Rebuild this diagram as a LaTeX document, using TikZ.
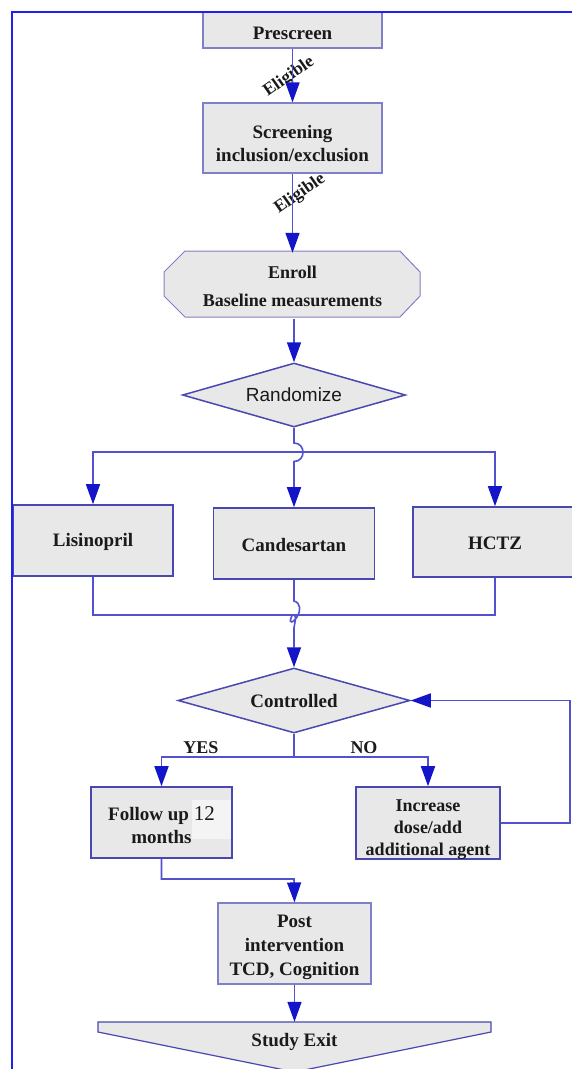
\documentclass[tikz,border=0pt]{standalone}
\usepackage{fontspec}
\setmainfont{Liberation Serif}
\newfontfamily\rsans{Liberation Sans}
\usetikzlibrary{arrows.meta,shapes.geometric}
\definecolor{boxfill}{HTML}{E8E8E8}
\definecolor{boxline}{HTML}{8080C8}
\definecolor{boxlined}{HTML}{4848B0}
\definecolor{conncol}{HTML}{5252D0}
\definecolor{tipcol}{HTML}{1414C8}
\definecolor{framecol}{HTML}{1E1EF5}
\definecolor{patchcol}{HTML}{F4F4F4}
\definecolor{txtcol}{HTML}{1A1A1A}
\begin{document}
\begin{tikzpicture}[x=1pt,y=-1pt,
  box/.style={draw=boxline, fill=boxfill, line width=1.2pt, rectangle, inner sep=0pt, align=center,
    text=txtcol, font=\fontsize{19}{23}\selectfont\bfseries},
  boxd/.style={box, draw=boxlined, line width=1.6pt},
  txt/.style={inner sep=0pt, align=center, text=txtcol, font=\fontsize{19}{23}\selectfont\bfseries},
  dia/.style={diamond, draw=boxlined, fill=boxfill, line width=1.5pt, inner sep=0pt, text=txtcol},
  conn/.style={draw=conncol, line width=1.6pt},
  arr/.style={conn, -{Triangle[width=14pt,length=20pt,color=tipcol]}},
  elig/.style={inner sep=0pt, text=txtcol, rotate=35, font=\fontsize{17.5}{19}\selectfont\bfseries},
]
\useasboundingbox (0,0) rectangle (572,1069);
\clip (0,0) rectangle (572,1069);
\fill[white] (0,0) rectangle (572,1069);

% boxes
\node[box, minimum width=179pt, minimum height=36pt] (pre) at (292.5,30) {};
\node[txt] (pretxt) at (292.5,33) {Prescreen};
\node[box, minimum width=179pt, minimum height=70pt] (scr) at (292.5,138) {};
\node[txt] (scrtxt) at (292.5,143.5) {Screening\\inclusion/exclusion};

\filldraw[draw=boxline, fill=boxfill, line width=1pt]
  (185,251) -- (400,251) -- (420,272) -- (420,296) -- (400,317) -- (185,317) -- (164,296) -- (164,272) -- cycle;
\node[txt, minimum width=256pt, minimum height=66pt, font=\fontsize{18}{28}\selectfont\bfseries] (enr) at (292.5,286)
  {Enroll\\Baseline measurements};

\node[dia, aspect=3.484, minimum width=223pt, minimum height=64pt, font=\rsans\fontsize{19}{21}\selectfont] (rnd) at (294,395) {Randomize};

\node[boxd, minimum width=160pt, minimum height=71pt] (lis) at (93,540.5) {};
\node[txt] (listxt) at (93,542) {Lisinopril};
\node[boxd, minimum width=161pt, minimum height=71pt] (can) at (294,543.5) {};
\node[txt] (cantxt) at (294,545) {Candesartan};
\node[boxd, minimum width=164pt, minimum height=70pt] (hct) at (495,542) {};
\node[txt] (hcttxt) at (495,543.5) {HCTZ};

\node[dia, aspect=3.57, minimum width=232pt, minimum height=65pt, font=\fontsize{19}{21}\selectfont\bfseries] (ctl) at (294,700.5) {Controlled};

\node[boxd, minimum width=141pt, minimum height=71pt] (fol) at (161.5,822.5) {};
\fill[patchcol] (192,800) rectangle (231,839);
\node[txt] (foltxt) at (161.5,825) {Follow up {\mdseries\fontsize{21}{23}\selectfont 12}\\months};

\node[boxd, minimum width=144pt, minimum height=72pt] (inc) at (428,823) {};
\node[txt, font=\fontsize{18}{22}\selectfont\bfseries] (inctxt) at (428,830)
  {Increase\\dose/add\\additional agent};

\node[box, minimum width=153pt, minimum height=81pt] (post) at (294.5,943.5) {};
\node[txt, font=\fontsize{19}{24}\selectfont\bfseries] (posttxt) at (294.5,947)
  {Post\\intervention\\TCD, Cognition};

\filldraw[draw=boxlined, fill=boxfill, line width=1.2pt]
  (98,1022) -- (491,1022) -- (491,1032) -- (294.5,1072) -- (98,1032) -- cycle;
\node[txt, minimum width=393pt, minimum height=40pt] (exit) at (294.5,1042) {Study Exit};

% labels
\node[elig] (el1) at (289,77) {Eligible};
\node[elig] (el2) at (300,194) {Eligible};
\node[txt, font=\fontsize{18}{20}\selectfont\bfseries] (yes) at (201,748) {YES};
\node[txt, font=\fontsize{18}{20}\selectfont\bfseries] (no) at (364,748) {NO};

% connectors
\draw[arr] (pre.south) -- (scr.north);
\draw[arr] (scr.south) -- (scr.south |- enr.north);
\draw[arr] (enr.south -| rnd.north) -- (rnd.north);

\coordinate (split) at (294,452);
\draw[arr] (split) -| (lis.north);
\draw[arr] (split) -| (hct.north);
\draw[arr] (rnd.south) -- (294,443) .. controls (306,443) and (306,461.5) .. (294,461.5) -- (can.north);

\coordinate (join) at (294,615);
\draw[conn] (lis.south) |- (join);
\draw[conn] (hct.south) |- (join);
\draw[arr] (can.south) -- (294,601)
  .. controls (301,603) and (301,611) .. (297,617)
  .. controls (293,623) and (289,624) .. (291,618)
  .. controls (292,613) and (296,614) .. (295.5,619)
  .. controls (295,623) and (294,624) .. (294,628) -- (ctl.north);

\coordinate (yn) at (294,757);
\draw[conn] (ctl.south) -- (yn);
\draw[arr] (yn) -| (fol.north);
\draw[arr] (yn) -| (inc.north);
\draw[arr] (inc.east) -- (570,823) |- (ctl.east);

\draw[arr] (fol.south) |- (294,879) -- (post.north);
\draw[arr] (post.south) -- (exit.north);

% frame
\draw[draw=framecol, line width=2pt] (12,1075) -- (12,12) -- (580,12);
\end{tikzpicture}
\end{document}
